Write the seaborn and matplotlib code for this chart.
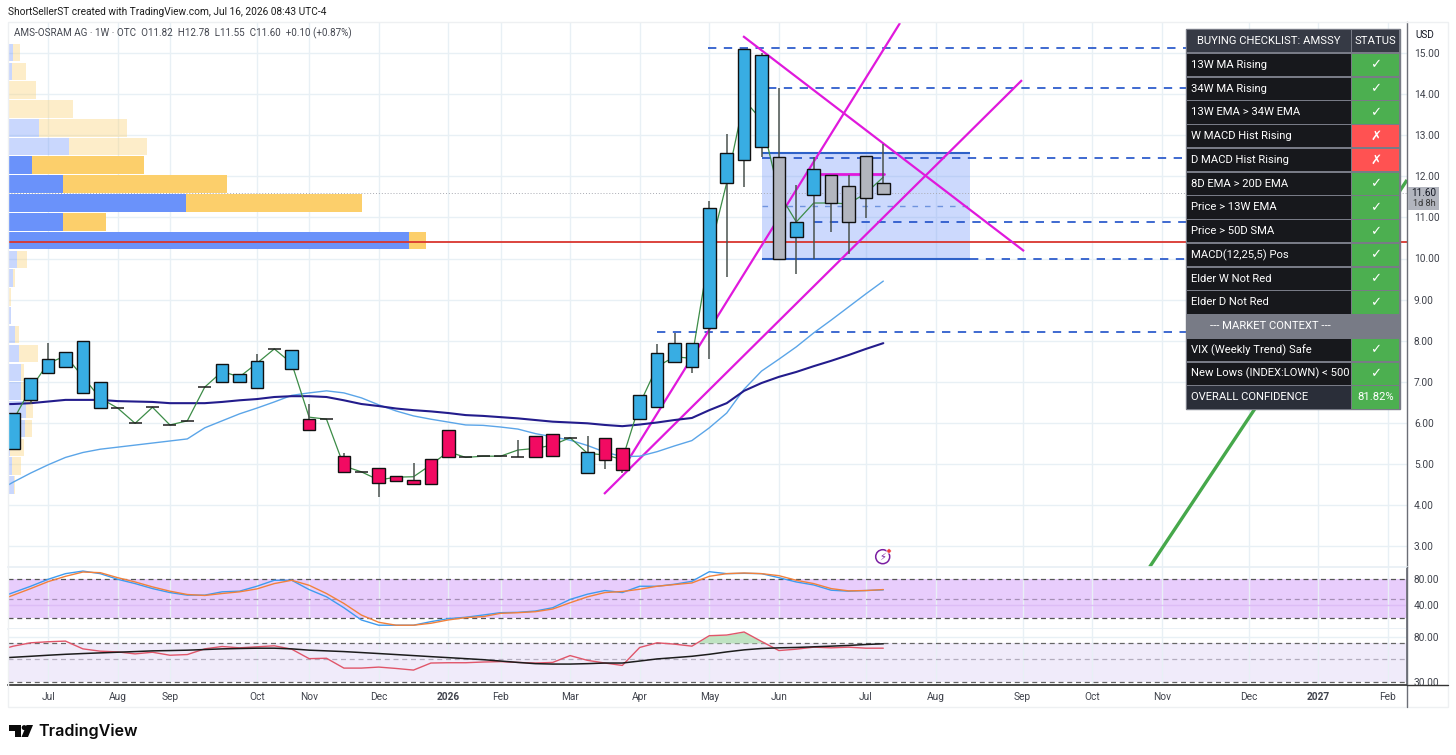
import numpy as np
import pandas as pd
import matplotlib
matplotlib.use("Agg")
import matplotlib.pyplot as plt
from matplotlib.patches import Rectangle, Polygon, Circle
import seaborn as sns

# ---------- data ----------
candle_kind = list("bbbbbb" "dddddd" "bbb" "d" "b" "p" "d" "p" "d" "ppppp" "dddd" "pp" "d" "b" "pp" "bbbbbbbb" "g" "bb" "gggg")
opens = [5.36,6.55,7.21,7.35,6.72,6.36,6.36,5.99,6.38,5.95,6.05,6.87,7.43,6.99,6.84,7.80,7.30,6.09,6.09,5.19,4.81,4.90,4.70,4.62,5.11,5.83,5.16,5.19,5.19,5.18,5.69,5.74,5.64,4.77,5.63,5.39,6.10,6.38,7.49,7.35,8.30,11.84,12.40,12.72,12.46,10.53,11.55,12.02,11.77,12.49,11.83]
closes = [6.23,7.09,7.55,7.72,7.99,6.99,6.36,5.99,6.38,5.95,6.05,6.87,6.99,7.18,7.51,7.80,7.77,5.83,6.09,4.81,4.81,4.54,4.58,4.51,4.51,5.16,5.16,5.19,5.19,5.18,5.16,5.19,5.64,5.29,5.10,4.85,6.68,7.69,7.94,7.94,11.22,12.57,15.10,14.94,10.00,10.88,12.18,11.34,10.90,11.48,11.58]
highs = [6.23,7.09,7.95,7.72,7.99,6.99,6.36,5.99,6.38,5.95,6.05,6.87,7.43,7.18,7.68,7.80,7.77,6.46,6.09,5.27,4.81,4.90,4.70,5.03,5.11,5.83,5.16,5.19,5.19,5.58,5.69,5.74,5.64,5.68,5.63,5.39,6.68,7.91,8.19,7.94,11.40,13.04,15.10,15.01,14.14,11.79,12.47,12.02,12.03,12.49,12.79]
lows = [5.36,6.46,7.21,7.35,6.72,6.36,6.36,5.99,6.38,5.95,6.05,6.87,6.99,6.99,6.84,7.80,7.30,5.83,6.09,4.81,4.81,4.20,4.58,4.51,4.51,5.16,5.16,5.19,5.19,5.18,5.16,5.19,5.64,4.77,4.87,4.79,6.10,6.38,7.49,7.22,7.55,9.56,11.75,12.48,10.00,9.62,10.00,10.65,10.10,10.98,11.55]
# the line series start one bar earlier, off the left edge
close_line = [5.30,6.07,6.84,7.45,7.63,7.12,6.60,6.36,5.99,6.38,5.95,6.05,6.87,7.25,7.12,7.45,7.80,7.45,6.14,6.09,4.95,4.81,4.61,4.68,4.69,4.98,5.30,5.16,5.19,5.19,5.34,5.38,5.46,5.64,5.26,5.22,5.11,6.46,7.37,7.61,7.57,10.13,11.84,13.86,13.37,11.59,10.89,11.35,11.35,11.33,11.59,11.98]
ma_navy = [6.45,6.46,6.48,6.52,6.56,6.56,6.56,6.53,6.52,6.51,6.48,6.48,6.48,6.51,6.55,6.58,6.63,6.65,6.65,6.63,6.55,6.46,6.41,6.35,6.31,6.28,6.24,6.19,6.17,6.14,6.11,6.07,6.03,6.01,5.99,5.95,5.92,5.96,6.01,6.07,6.12,6.31,6.48,6.78,6.97,7.12,7.24,7.38,7.51,7.65,7.80,7.94]
ma_light = [4.32,4.56,4.78,4.98,5.16,5.28,5.36,5.41,5.46,5.51,5.56,5.61,5.88,6.05,6.22,6.36,6.51,6.67,6.73,6.78,6.73,6.61,6.44,6.29,6.17,6.09,6.02,5.95,5.94,5.90,5.85,5.74,5.66,5.58,5.45,5.29,5.18,5.19,5.30,5.44,5.57,5.88,6.24,6.82,7.26,7.55,7.85,8.19,8.50,8.82,9.14,9.45]
vp_price = [15.01,14.55,14.10,13.64,13.18,12.72,12.27,11.81,11.35,10.89,10.44,9.98,9.52,9.06,8.61,8.15,7.69,7.23,6.78,6.32,5.86,5.40,4.95,4.49]
vp_blue = [5.3,4,0,0,31,61,24,55,178,55,401,9,5,1,2.7,7,11,12.7,12.7,18,17,2,4,5.5]
vp_total = [12,18,28,65,119,139,136,219,354,98,418,19,7,2.5,3,11,30,16,16,25,24,16,13,7]
vp_strong = [0,0,0,0,0,0,1,1,1,1,1,0,0,0,0,0,0,0,0,0,0,0,0,0]
stoch_blue = [50,59.6,69.3,80,88.7,92.7,88.7,80,73.4,65.7,59.6,55.6,55.6,60.7,61.7,69.3,78.5,78.5,64.2,53,36.2,17.4,9.3,9.3,9.3,14.8,19.4,21.5,25,28.6,29.1,31.1,36.2,49,57.1,62.7,59.6,69.3,69.3,72.4,76.9,91.7,88.7,89.2,88.7,82.5,75.9,71.3,63.2,61.7,62.7,63.7]
stoch_orange = [45.5,55.6,65.7,76.4,84.6,91.2,90.2,82.5,75.9,68.3,61.7,56.6,55.1,58.1,60.7,65.2,73.4,78.5,70.8,58.1,42.8,25,13.8,9.3,9.3,12.3,17.4,21,22.5,27.6,28.6,30.1,34.2,43.9,53,59.6,61.2,64.7,69.3,71.9,74.4,84.6,88.7,89.7,88.7,85.6,78.5,73.4,65.7,62.2,62.7,64.2]
rs_red = [59,65.3,70.2,71.8,72.8,61.6,58.6,57.7,55.3,57.3,53.7,54.5,61.6,64.8,63.0,64.4,65.8,61.2,49.9,50.3,40.7,40.7,41.6,40.4,39.0,45.4,45.7,45.7,46.4,46.8,46.0,45.4,46.0,53.3,48.1,45.4,43.1,63.5,70.2,68.2,65.3,81.8,83.0,88.6,72.3,59.4,61.2,63.9,63.0,63.9,62.5,62.5]
rs_black = [50.3,51.4,52.5,53.7,54.8,55.7,56.5,57.3,58.1,59.0,59.4,59.9,60.7,61.6,62.1,62.5,62.5,61.6,59.9,59.0,58.1,56.9,55.7,54.5,53.3,52.1,51.0,49.9,48.8,47.4,46.0,44.8,44.4,44.4,44.8,45.4,45.4,47.4,49.6,51.0,52.5,54.8,57.7,60.3,62.1,63.0,63.5,64.4,65.3,66.3,67.7,68.7]
month_pos = [2,6,9,14,17,21,25,28,32,36,40,44,49,53,58,62,66,71,75,79]
month_labels = ["Jul","Aug","Sep","Oct","Nov","Dec","2026","Feb","Mar","Apr","May","Jun","Jul","Aug","Sep","Oct","Nov","Dec","2027","Feb"]
price_ticks = [15,14,13,12,11,10,9,8,7,6,5,4,3]
# horizontal levels: price, first bar, last bar
levels_price = [15.12,14.14,12.45,10.89,10.0,8.21]
levels_from = [39.9,43.4,43,46,55,37]
levels_to = 67.4
# trend lines: (bar, price) end points
trend_a = ([33.95,57.97],[4.27,14.34])
trend_b = ([34.98,50.96],[4.85,15.73])
trend_c = ([41.94,58.09],[15.41,10.18])
trend_d = ([46.4,50.03],[12.06,12.06])
trend_green = ([65.3,80.1],[2.49,11.91])
table_rows = ["13W MA Rising","34W MA Rising","13W EMA > 34W EMA","W MACD Hist Rising","D MACD Hist Rising","8D EMA > 20D EMA","Price > 13W EMA","Price > 50D SMA","MACD(12,25,5) Pos","Elder W Not Red","Elder D Not Red","--- MARKET CONTEXT ---","VIX (Weekly Trend) Safe","New Lows (INDEX:LOWN) < 500","OVERALL CONFIDENCE"]
table_status = ["y","y","y","n","n","y","y","y","y","y","y","","y","y","81.82%"]

# ---------- layout ----------
W, H = 1456, 755
sns.set_theme(style="white")
FONT = "Roboto"
plt.rcParams["font.family"] = [FONT, "DejaVu Sans"]
fig = plt.figure(figsize=(W/100, H/100), dpi=100, facecolor="white")

def axes_px(l, t, r, b, **kw):
    return fig.add_axes([l/W, 1-b/H, (r-l)/W, (b-t)/H], **kw)

L, R = 8, 1407
XLIM = ((L-13.3)/17.4, (R-13.3)/17.4)
YLIM = (15-(567.3-53)/41.1, 15+(53-21.7)/41.1)
GRID = "#E8F0F5"
TXT = "#3f424b"
TICK_FS = 7.3

x = np.arange(len(opens))
xl = np.arange(-1, len(opens))

# background grid
ax_bg = axes_px(L, 21.7, R, 567.3)
ax_bg.set_xlim(XLIM); ax_bg.set_ylim(YLIM)
ax_bg.set_xticks(month_pos); ax_bg.set_yticks(price_ticks)
ax_bg.grid(True, color=GRID, lw=1); ax_bg.tick_params(length=0, labelleft=False, labelbottom=False)
for s in ax_bg.spines.values(): s.set_visible(False)

# volume profile
ax_vp = axes_px(L, 21.7, R, 567.3)
ax_vp.patch.set_alpha(0)
ax_vp.set_xlim(0, R-L); ax_vp.set_ylim(YLIM); ax_vp.axis("off")
for p, b, t, s in zip(vp_price, vp_blue, vp_total, vp_strong):
    a = 1 if s else 0.36
    ax_vp.barh(p, b, height=0.425, color="#6A92FA", alpha=a, lw=0)
    ax_vp.barh(p, t-b, left=b, height=0.425, color="#FCCF6B", alpha=a, lw=0)

# main price pane
ax = axes_px(L, 21.7, R, 567.3)
ax.patch.set_alpha(0)
ax.set_xlim(XLIM); ax.set_ylim(YLIM)
ax.fill_between([43, 55], 10.0, 12.56, color="#6A92FA", alpha=0.34, lw=0, zorder=1)
ax.hlines([12.56, 10.0], 43, 55, color="#2E62C8", lw=1.5, zorder=1.5)
ax.hlines(11.28, 43, 55, color="#6F93DE", lw=1, linestyles=(0, (4, 5)), zorder=1.5)
ax.hlines(11.6, XLIM[0], XLIM[1], color="#A9ABB3", lw=0.7, linestyles=(0, (1, 2)), zorder=1.2)
for p, f in zip(levels_price, levels_from):
    ax.hlines(p, f, levels_to, color="#1E50C8", lw=1.2, linestyles=(0, (5, 4.5)), zorder=1.6)
ax.axhline(10.39, color="#D9352E", lw=1.3, zorder=1.7)

for tr in (trend_a, trend_b, trend_c):
    ax.plot(tr[0], tr[1], color="#E019DC", lw=1.6, zorder=2, solid_capstyle="butt")
ax.plot(trend_d[0], trend_d[1], color="#E019DC", lw=2, zorder=2)
ax.plot(trend_green[0], trend_green[1], color="#46A84B", lw=2.4, zorder=2, solid_capstyle="butt")

frame = pd.DataFrame({"bar": xl, "close": close_line, "navy": ma_navy, "light": ma_light})
sns.lineplot(data=frame, x="bar", y="light", ax=ax, color="#5BA5E8", lw=1, estimator=None, zorder=2.2)
sns.lineplot(data=frame, x="bar", y="navy", ax=ax, color="#231C8C", lw=1.5, estimator=None, zorder=2.3)
sns.lineplot(data=frame, x="bar", y="close", ax=ax, color="#3C8C47", lw=0.9, estimator=None, zorder=2.4)
ax.set_xlim(XLIM); ax.set_ylim(YLIM)

body_col = {"b": "#38ADE3", "p": "#F20A62", "g": "#B2B5BE"}
for i, k in enumerate(candle_kind):
    ax.vlines(i, lows[i], highs[i], color="#4A524E", lw=1.1, zorder=3)
    if k == "d":
        ax.hlines(closes[i], i-0.37, i+0.37, color="#1c1c1c", lw=1.1, zorder=3.2)
    else:
        lo, hi = sorted((opens[i], closes[i]))
        ax.bar(i, hi-lo, bottom=lo, width=0.72, color=body_col[k], edgecolor="#111",
               lw=1.0, zorder=3.2)

ax.set_xticks([]); ax.set_xlabel(""); ax.set_ylabel("")
ax.yaxis.tick_right()
ax.set_yticks(price_ticks); ax.set_yticklabels([f"{p:.2f}" for p in price_ticks], fontsize=TICK_FS, color=TXT)
ax.tick_params(axis="y", length=0, pad=5)
for n, s in ax.spines.items(): s.set_visible(n == "right")
ax.spines["right"].set_color("#6b6e76"); ax.spines["right"].set_linewidth(1)

# oscillator pane
ax2 = axes_px(L, 567.3, R, 629.3)
ax2.set_xlim(XLIM)
YL2 = (80-(629.3-579.3)*1.54, 80+(579.3-567.3)*1.54)
ax2.axhspan(20, 80, color="#E8CDFC", lw=0, zorder=0.5)
ax2.set_xticks(month_pos)
ax2.grid(True, axis="x", color=GRID, lw=1, zorder=0.2)
ax2.axhline(40, color="#DDBDF6", lw=1, zorder=0.6)
ax2.set_axisbelow(True)
ax2.hlines([80, 20], XLIM[0], XLIM[1], color="#555", lw=0.9, linestyles=(0, (4, 3)), zorder=1)
ax2.hlines(50, XLIM[0], XLIM[1], color="#A58FB5", lw=0.9, linestyles=(0, (4, 3)), zorder=1)
sns.lineplot(x=xl, y=stoch_blue, ax=ax2, color="#3E9BEF", lw=1, estimator=None, zorder=2)
sns.lineplot(x=xl, y=stoch_orange, ax=ax2, color="#F2813B", lw=1, estimator=None, zorder=2.1)
ax2.set_xlim(XLIM); ax2.set_ylim(YL2)
ax2.yaxis.tick_right()
ax2.set_yticks([80, 40]); ax2.set_yticklabels(["80.00", "40.00"], fontsize=TICK_FS, color=TXT)
ax2.tick_params(length=0, labelbottom=False, pad=5)
ax2.set_xlabel(""); ax2.set_ylabel("")
for n, s in ax2.spines.items(): s.set_visible(n == "right")
ax2.spines["right"].set_color("#6b6e76")
ax2.spines["top"].set_visible(True); ax2.spines["top"].set_color(GRID)
ax2.spines["bottom"].set_visible(True); ax2.spines["bottom"].set_color(GRID)

# relative strength pane
ax3 = axes_px(L, 629.3, R, 685.3)
ax3.set_yscale("log")
ax3.axhspan(30, 70, color="#F0EBFA", lw=0, zorder=0.5)
ax3.set_xticks(month_pos)
ax3.grid(True, axis="x", color=GRID, lw=1, zorder=0.2); ax3.set_axisbelow(True)
ax3.axhline(80, color=GRID, lw=1, zorder=0.4)
ax3.hlines([70, 30], XLIM[0], XLIM[1], color="#666", lw=0.9, linestyles=(0, (4, 3)), zorder=1)
ax3.hlines(50, XLIM[0], XLIM[1], color="#B3ADBE", lw=0.9, linestyles=(0, (4, 3)), zorder=1)
red = np.array(rs_red)
ax3.fill_between(xl, red, 70, where=(red > 70) & (xl >= 39), interpolate=True, color="#BFE3C2", lw=0, zorder=1.2)
sns.lineplot(x=xl, y=rs_red, ax=ax3, color="#E0566A", lw=1, estimator=None, zorder=2)
sns.lineplot(x=xl, y=rs_black, ax=ax3, color="#1c1c1c", lw=1.1, estimator=None, zorder=2.1)
ax3.set_xlim(XLIM); ax3.set_ylim(28.1, 93.9)
ax3.yaxis.tick_right()
ax3.set_yticks([80, 30]); ax3.set_yticklabels(["80.00", "30.00"], fontsize=TICK_FS, color=TXT)
ax3.minorticks_off()
ax3.set_xticks(month_pos)
ax3.set_xticklabels(month_labels, fontsize=TICK_FS, color=TXT)
ax3.tick_params(length=0, pad=4.5)
ax3.tick_params(axis="y", pad=5)
ax3.set_xlabel(""); ax3.set_ylabel("")
for n, s in ax3.spines.items(): s.set_visible(n in ("right", "bottom"))
ax3.spines["right"].set_color("#6b6e76"); ax3.spines["bottom"].set_color("#333")
for lab, b in zip(ax3.get_xticklabels(), month_labels):
    if b in ("2026", "2027"):
        lab.set_fontweight("bold")

# overlay: table, header, logo (pixel coordinates)
ov = fig.add_axes([0, 0, 1, 1], zorder=10)
ov.set_xlim(0, W); ov.set_ylim(H, 0); ov.axis("off"); ov.patch.set_alpha(0)

# axis frame pieces
ov.add_patch(Rectangle((L, 21.7), 1448-L, 706.7-21.7, fill=False, ec="#EEF0F2", lw=1, zorder=0))
ov.plot([R, R], [567, 706.7], color="#6b6e76", lw=1, zorder=1)
ov.plot([R, 1448], [685.3, 685.3], color="#333", lw=1, zorder=1)

ov.text(8, 12, "ShortSellerST created with TradingView.com, Jul 16, 2026 08:43 UTC-4",
        fontsize=7.3, color="#1c1c1c", va="center", ha="left")
ov.text(14, 33.5, "AMS-OSRAM AG · 1W · OTC  O11.82  H12.78  L11.55  C11.60  +0.10 (+0.87%)",
        fontsize=7.1, color="#444750", va="center", ha="left")

# USD + price tag
ov.text(1425, 35.5, "USD", fontsize=7.2, color="#131722", va="center", ha="center")
ov.add_patch(Rectangle((1408, 187), 31, 23, fc="#B2B5BE", ec="none"))
ov.text(1424, 193.5, "11.60", fontsize=7.2, color="#131722", va="center", ha="center")
ov.text(1424, 204, "1d 8h", fontsize=6.6, color="#333", va="center", ha="center")

# event icon
ov.add_patch(Circle((882.7, 556.7), 7, fill=False, ec="#7B1FA2", lw=1.1))
ov.add_patch(Circle((889, 551), 2.2, fc="#EF3B3B", ec="white", lw=0.5))
ov.text(882.5, 557, "\u26a1", fontsize=7, color="#7B1FA2", va="center", ha="center", family="DejaVu Sans")

# checklist table
TL, TM, TR_ = 1186, 1351.7, 1400
T0, RH = 29.3, 23.75
BORDER = "#787B86"
ov.add_patch(Rectangle((TL, T0), TR_-TL, RH*16, fc=BORDER, ec=BORDER, lw=1, zorder=2))
def cell(x0, x1, row, color):
    ov.add_patch(Rectangle((x0+0.6, T0+row*RH+0.8), x1-x0-1.2, RH-1.6, fc=color, ec="none", zorder=3))
TFS = 8.1
cell(TL, TM, 0, "#363A45"); cell(TM, TR_, 0, "#363A45")
ov.text((TL+TM)/2, T0+RH/2, "BUYING CHECKLIST: AMSSY", color="white", fontsize=TFS, ha="center", va="center", zorder=4)
ov.text((TM+TR_)/2, T0+RH/2, "STATUS", color="white", fontsize=TFS, ha="center", va="center", zorder=4)
for r, (name, st) in enumerate(zip(table_rows, table_status), start=1):
    yc = T0+(r+0.5)*RH
    if st == "":
        cell(TL, TR_, r, BORDER)
        ov.text((TL+TR_)/2-23, yc, name, color="white", fontsize=TFS, ha="center", va="center", zorder=4)
        continue
    overall = name.startswith("OVERALL")
    cell(TL, TM, r, "#2A2E39" if overall else "#17181C")
    cell(TM, TR_, r, "#FF5252" if st == "n" else "#4CAF50")
    ov.text(TL+5, yc, name, color="white", fontsize=TFS, ha="left", va="center", zorder=4)
    if st in ("y", "n"):
        ov.text((TM+TR_)/2, yc, "\u2713" if st == "y" else "\u2717", color="white", fontsize=9.5,
                fontweight="bold", ha="center", va="center", zorder=4, family="DejaVu Sans")
    else:
        ov.text((TM+TR_)/2, yc, st, color="white", fontsize=TFS, ha="center", va="center", zorder=4)

# TradingView logo
ov.add_patch(Polygon([(9, 725), (21, 725), (21, 737), (15, 737), (15, 731), (9, 731)], fc="#0a0a0a", ec="none"))
ov.add_patch(Circle((24.2, 727.6), 2.5, fc="#0a0a0a", ec="none"))
ov.add_patch(Polygon([(33, 725), (28, 737), (21.5, 737), (26.5, 725)], fc="#0a0a0a", ec="none"))
ov.text(38.5, 731, "TradingView", fontsize=11.6, color="#0a0a0a", fontweight="semibold", family="Inter", va="center", ha="left")

fig.savefig("out.png", dpi=100)
